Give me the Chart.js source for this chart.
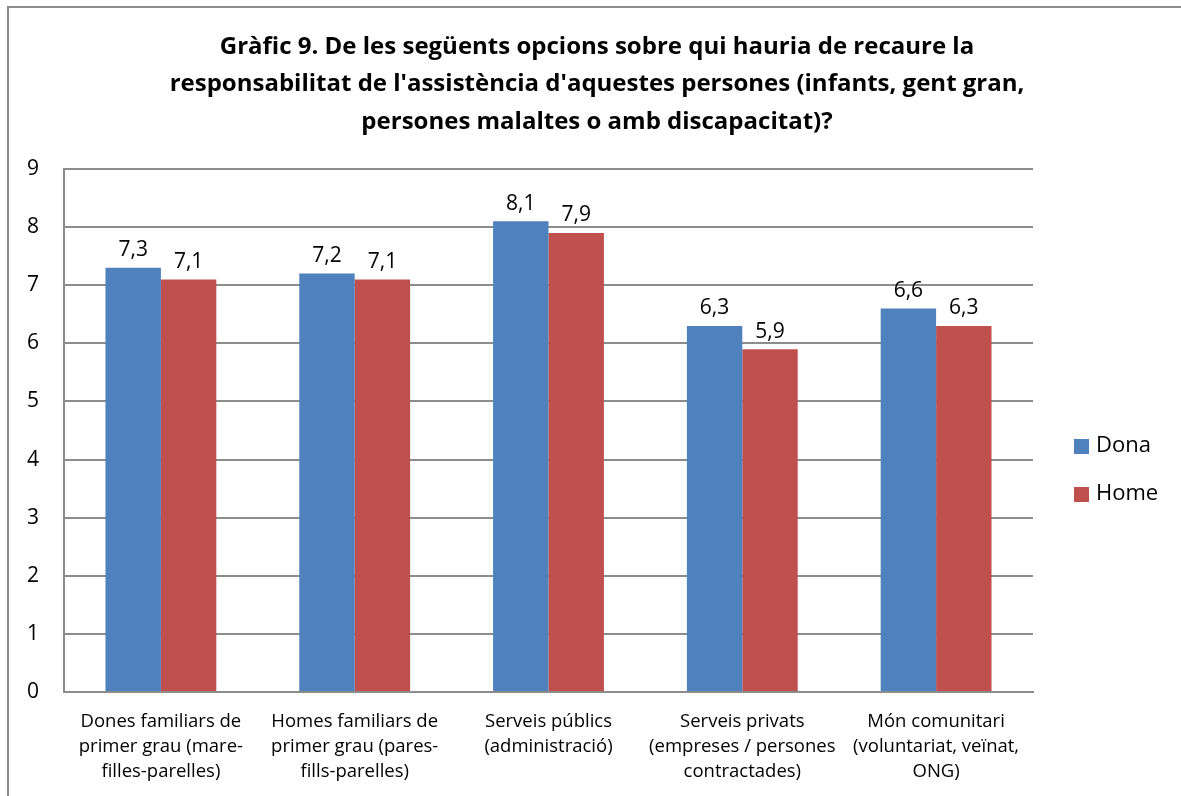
<!DOCTYPE html>
<html>
<head>
<meta charset="utf-8">
<script src="https://cdn.jsdelivr.net/npm/chart.js@4.4.1/dist/chart.umd.min.js"></script>
<style>
  body { margin: 0; background: #fff; }
  #wrap { position: relative; width: 1181px; height: 796px; overflow: hidden; }
  #frame { position: absolute; left: 7px; top: 6px; width: 1200px; height: 820px; border: 2px solid #8c8c8c; pointer-events: none; }
</style>
</head>
<body>
<div id="wrap">
  <canvas id="grafic9" width="1181" height="796"></canvas>
  <div id="frame"></div>
</div>
<script>
"use strict";

var categories = [
  ["Dones familiars de", "primer grau (mare-", "filles-parelles)"],
  ["Homes familiars de", "primer grau (pares-", "fills-parelles)"],
  ["Serveis públics", "(administració)"],
  ["Serveis privats", "(empreses / persones", "contractades)"],
  ["Món comunitari", "(voluntariat, veïnat,", "ONG)"]
];
var donaValues = [7.3, 7.2, 8.1, 6.3, 6.6];
var homeValues = [7.1, 7.1, 7.9, 5.9, 6.3];
var seriesNames = ["Dona", "Home"];
var titleLines = [
  "Gràfic 9. De les següents opcions sobre qui hauria de recaure la",
  "responsabilitat de l'assistència d'aquestes persones (infants, gent gran,",
  "persones malaltes o amb discapacitat)?"
];

var fontFamily = "'Open Sans', 'Noto Sans', sans-serif";
var gridColor = "#8c8c8c";

// value labels above each bar, decimal comma
var barValueLabels = {
  id: "barValueLabels",
  afterDatasetsDraw: function(chart) {
    var ctx = chart.ctx;
    ctx.save();
    ctx.font = "21px " + fontFamily;
    ctx.fillStyle = "#000";
    ctx.textAlign = "center";
    ctx.textBaseline = "bottom";
    chart.data.datasets.forEach(function(ds, i) {
      chart.getDatasetMeta(i).data.forEach(function(bar, j) {
        ctx.fillText(String(ds.data[j]).replace(".", ","), bar.x, bar.y - 7);
      });
    });
    ctx.restore();
  }
};

// title centred over the whole frame, legend on the right
var titleAndLegend = {
  id: "titleAndLegend",
  afterDraw: function(chart) {
    var ctx = chart.ctx;
    ctx.save();
    ctx.fillStyle = "#000";
    ctx.textBaseline = "middle";
    ctx.textAlign = "center";
    ctx.font = "bold 24px " + fontFamily;
    titleLines.forEach(function(line, i) {
      ctx.fillText(line, 597, 47 + i * 37.5);
    });

    var x = chart.chartArea.right + 41;
    var y = 446;
    ctx.textAlign = "left";
    ctx.font = "22px " + fontFamily;
    chart.data.datasets.forEach(function(ds) {
      ctx.fillStyle = ds.backgroundColor;
      ctx.fillRect(x, y - 7, 15, 15);
      ctx.fillStyle = "#000";
      ctx.fillText(ds.label, x + 22, y);
      y += 48;
    });
    ctx.restore();
  }
};

var elem = document.getElementById("grafic9").getContext("2d");
new Chart(elem, {
  type: "bar",
  data: {
    labels: categories,
    datasets: [
      { label: seriesNames[0], data: donaValues, backgroundColor: "#4f81bd" },
      { label: seriesNames[1], data: homeValues, backgroundColor: "#c0504d" }
    ]
  },
  options: {
    responsive: false,
    animation: false,
    layout: { padding: { left: 0, right: 148, top: 169, bottom: -5 } },
    datasets: { bar: { categoryPercentage: 0.572, barPercentage: 1 } },
    plugins: {
      legend: { display: false },
      tooltip: { enabled: false },
      title: { display: false }
    },
    scales: {
      x: {
        grid: { display: false, drawTicks: false },
        border: { display: true, color: gridColor, width: 2 },
        ticks: {
          color: "#000",
          maxRotation: 0,
          autoSkip: false,
          padding: 17,
          font: { family: fontFamily, size: 18.5, lineHeight: 1.35 }
        }
      },
      y: {
        min: 0,
        max: 9,
        afterFit: function(scale) { scale.width = 64; },
        grid: { color: gridColor, lineWidth: 2, drawTicks: false },
        border: { display: true, color: gridColor, width: 2 },
        ticks: {
          stepSize: 1,
          color: "#000",
          padding: 25,
          font: { family: fontFamily, size: 21 }
        }
      }
    }
  },
  plugins: [barValueLabels, titleAndLegend]
});
</script>
</body>
</html>
